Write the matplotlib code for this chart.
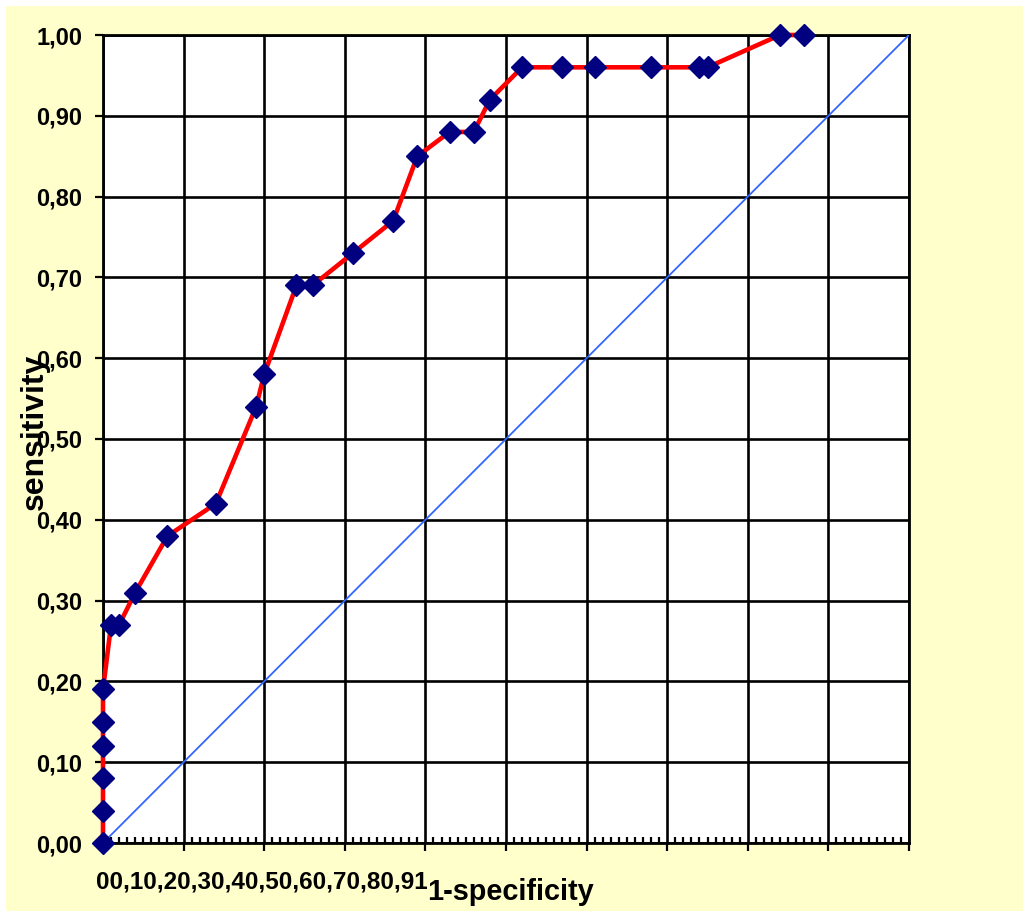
import numpy as np
import matplotlib
matplotlib.use("Agg")
import matplotlib.pyplot as plt
from matplotlib.patches import Rectangle
from matplotlib.ticker import MultipleLocator, FuncFormatter

# ROC curve points
one_minus_spec = [0.0, 0.0, 0.0, 0.0, 0.0, 0.0, 0.01, 0.02, 0.04, 0.08, 0.14,
                  0.19, 0.20, 0.24, 0.26, 0.31, 0.36, 0.39, 0.43, 0.46, 0.48,
                  0.52, 0.57, 0.61, 0.68, 0.74, 0.75, 0.84, 0.87]
sensitivity = [0.00, 0.04, 0.08, 0.12, 0.15, 0.19, 0.27, 0.27, 0.31, 0.38, 0.42,
               0.54, 0.58, 0.69, 0.69, 0.73, 0.77, 0.85, 0.88, 0.88, 0.92,
               0.96, 0.96, 0.96, 0.96, 0.96, 0.96, 1.00, 1.00]
diag = [0.0, 1.0]
x_tick_labels = ["0", "0,1", "0,2", "0,3", "0,4", "0,5", "0,6", "0,7", "0,8", "0,9", "1"]

plt.rcParams["font.family"] = ["Liberation Sans", "DejaVu Sans"]
plt.rcParams["font.weight"] = "bold"

W, H = 1023, 911
fig = plt.figure(figsize=(W / 100, H / 100), dpi=100)
fig.patch.set_facecolor("white")
fig.patches.append(Rectangle((6 / W, 0), 1 - 6 / W, 1 - 6 / H, transform=fig.transFigure,
                             facecolor="#FFFFCC", edgecolor="none", zorder=-10))

ax = fig.add_axes([103 / W, 1 - 843 / H, 806 / W, 808 / H])
ax.set_facecolor("white")

ax.plot(diag, diag, color="#3366FF", lw=1.3, zorder=3)
ax.plot(one_minus_spec, sensitivity, color="red", lw=3.3, marker="D", markersize=11.5,
        markerfacecolor="#000080", markeredgecolor="#000080", zorder=4, clip_on=False)

ax.set_xlim(0, 1)
ax.set_ylim(0, 1)
ax.xaxis.set_major_locator(MultipleLocator(0.1))
ax.xaxis.set_minor_locator(MultipleLocator(0.01))
ax.yaxis.set_major_locator(MultipleLocator(0.1))
ax.yaxis.set_major_formatter(FuncFormatter(lambda v, p: ("%.2f" % v).replace(".", ",")))
ax.set_xticklabels([])
ax.tick_params(axis="x", which="major", direction="out", length=6, width=1.6)
ax.tick_params(axis="x", which="minor", direction="in", length=4, width=1.6)
ax.tick_params(axis="y", which="major", direction="out", length=6, width=1.6,
               labelsize=17, pad=9)
for lab in ax.get_yticklabels():
    lab.set_fontweight("bold")
ax.grid(True, which="major", color="black", lw=1.9)
for s in ax.spines.values():
    s.set_color("black")
    s.set_linewidth(2.0)

# category labels crowded together at the start of the axis, as in the source
fig.text(96 / W, 1 - 888 / H, "".join(x_tick_labels), fontsize=17.5, fontweight="bold",
         ha="left", va="baseline")
fig.text(427 / W, 1 - 900 / H, "1-specificity", fontsize=20.8, fontweight="bold",
         ha="left", va="baseline")
fig.text(35 / W, 1 - 432 / H, "sensitivity", fontsize=23, fontweight="bold",
         rotation=90, ha="center", va="center")

fig.savefig("out.png", dpi=100)
